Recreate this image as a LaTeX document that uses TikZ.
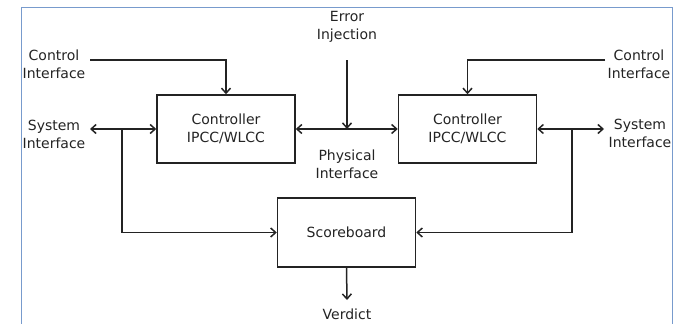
\documentclass[tikz,border=0pt]{standalone}
\usepackage{fontspec}
\setmainfont{DejaVu Sans}
\usetikzlibrary{positioning,arrows.meta}

\definecolor{frameblue}{RGB}{120,155,205}
\definecolor{inkgray}{RGB}{35,35,35}

\begin{document}
\begin{tikzpicture}[x=1pt,y=-1pt,
    >={Straight Barb[length=5pt,width=9pt]},
    blockbox/.style={draw=inkgray,line width=1.5pt,minimum width=138pt,minimum height=68pt,
        align=center,text=inkgray,font=\fontsize{14}{18}\selectfont},
    lbl/.style={align=center,text=inkgray,inner sep=0pt,font=\fontsize{14}{18}\selectfont},
    wire/.style={draw=inkgray,line width=1.5pt}]
    \useasboundingbox (0,0) rectangle (675,324);
    % frame
    \draw[frameblue,line width=0.8pt] (21,324) -- (21,7) -- (672,7) -- (672,324);

    % blocks
    \node[blockbox] (ctlA) at (226,129) {Controller\\IPCC/WLCC};
    \node[blockbox] (ctlB) at (467.5,129) {Controller\\IPCC/WLCC};
    \node[blockbox,minimum height=69pt] (score) at (346.5,232.5) {Scoreboard};

    % labels
    \node[lbl] (ctrlinA) at (54,64) {Control\\Interface};
    \node[lbl] (sysA) at (54,134) {System\\Interface};
    \node[lbl] (errinj) at (347,27) {Error\\Injection};
    \node[lbl] (phys) at (347,164) {Physical\\Interface};
    \node[lbl] (ctrlinB) at (639,64) {Control\\Interface};
    \node[lbl] (sysB) at (640,133) {System\\Interface};
    \node[lbl] (verdict) at (347,314) {Verdict};

    % ends of the wires
    \coordinate (ciA) at (90,60);
    \coordinate (ciB) at (605,60);
    \coordinate (siA) at (90,129);
    \coordinate (siB) at (604,129);
    \coordinate (eiTop) at (347,60);
    \coordinate (tapA) at (122,129);
    \coordinate (tapB) at (572,129);
    \coordinate (vdEnd) at (347,300);

    % control interfaces
    \draw[wire,->] (ciA) -| (ctlA.north);
    \draw[wire,->] (ciB) -| (ctlB.north);

    % system interfaces
    \draw[wire,<->] (siA) -- (ctlA.west);
    \draw[wire,<->] (ctlB.east) -- (siB);
    \draw[wire,->] (tapA) |- (score.west);
    \draw[wire,->] (tapB) |- (score.east);

    % physical interface and error injection
    \draw[wire,<->] (ctlA.east) -- (ctlB.west);
    \draw[wire,->] (eiTop) -- (eiTop |- ctlA.east);

    % verdict
    \draw[wire,->] (score.south) -- (vdEnd);
\end{tikzpicture}
\end{document}
